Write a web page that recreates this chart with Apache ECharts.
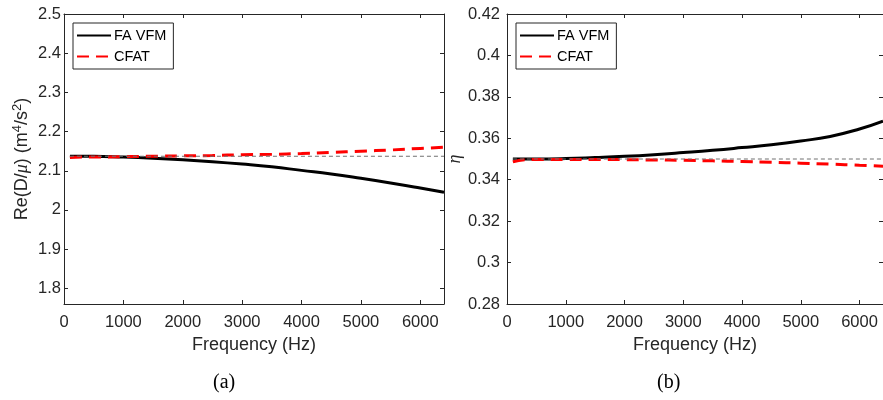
<!DOCTYPE html>
<html>
<head>
<meta charset="utf-8">
<script src="https://cdn.jsdelivr.net/npm/echarts@6/dist/echarts.min.js"></script>
<style>
  html, body { margin: 0; padding: 0; background: #fff; }
  #chart { width: 883px; height: 400px; }
</style>
</head>
<body>
<div id="chart"></div>
<script>
// frequency samples (Hz)
const freq = [100, 300, 500, 1000, 1500, 2000, 2500, 3000, 3500, 4000, 4500, 5000, 5500, 6000, 6400]

// (a) Re(D/mu)
const dVfm = [2.137, 2.137, 2.137, 2.135, 2.132, 2.128, 2.123, 2.117, 2.110, 2.101, 2.092, 2.081, 2.069, 2.056, 2.045]
const dCfat = [2.134, 2.135, 2.135, 2.136, 2.137, 2.138, 2.139, 2.141, 2.142, 2.144, 2.147, 2.150, 2.153, 2.157, 2.160]
const dRef = 2.137

// (b) eta
const etaVfm = [0.3500, 0.3500, 0.3500, 0.3502, 0.3507, 0.3513, 0.3521, 0.3531, 0.3542, 0.3555, 0.3569, 0.3587, 0.3609, 0.3645, 0.3683]
const etaCfat = [0.3486, 0.3496, 0.3498, 0.3498, 0.3498, 0.3497, 0.3495, 0.3494, 0.3491, 0.3488, 0.3484, 0.3480, 0.3475, 0.3470, 0.3465]
const etaRef = 0.350

const seriesNames = ['FA VFM', 'CFAT']
const captions = ['(a)', '(b)']

const axisColor = '#262626'
const font = 'Liberation Sans'

const pair = (ys) => freq.map((f, i) => [f, ys[i]])
const refLine = (v) => [[freq[0], v], [freq[freq.length - 1], v]]

const xName = {
  name: 'Frequency (Hz)', nameLocation: 'middle', nameGap: 32,
  nameTextStyle: { color: axisColor, fontSize: 18, fontFamily: font }
}

const xBase = (grid, pos) => ({
  type: 'value',
  gridIndex: grid,
  position: pos,
  min: 0,
  max: 6400,
  interval: 1000,
  axisLine: { show: true, onZero: false, lineStyle: { color: axisColor, width: 1 } },
  axisTick: { show: true, inside: true, length: 4, lineStyle: { color: axisColor } },
  axisLabel: pos === 'bottom'
    ? { show: true, margin: 10, color: axisColor, fontSize: 16.5, fontFamily: font, showMaxLabel: false, formatter: v => String(v) }
    : { show: false },
  splitLine: { show: false }
})

const yTick = { show: true, inside: true, length: 4, lineStyle: { color: axisColor } }
const yLine = { show: true, onZero: false, lineStyle: { color: axisColor, width: 1 } }

const chart = echarts.init(document.getElementById('chart'))

chart.setOption({
  animation: false,
  backgroundColor: '#fff',
  grid: [
    { left: 64, top: 14, width: 380, height: 290 },
    { left: 507, top: 14, width: 381, height: 290 }
  ],
  xAxis: [
    Object.assign(xBase(0, 'bottom'), xName),
    xBase(0, 'top'),
    Object.assign(xBase(1, 'bottom'), xName),
    xBase(1, 'top')
  ],
  yAxis: [
    {
      type: 'value', gridIndex: 0, position: 'left',
      min: 1.76, max: 2.5, splitNumber: 7,
      axisLine: yLine, axisTick: yTick, splitLine: { show: false },
      axisLabel: { color: axisColor, fontSize: 16.5, fontFamily: font, margin: 3, showMinLabel: false },
      name: 'Re(D/{i|μ}) (m{s|4}/s{s|2})', nameLocation: 'middle', nameGap: 31, nameRotate: 90,
      nameTextStyle: {
        color: axisColor, fontSize: 18, fontFamily: font,
        rich: {
          i: { fontSize: 18, fontFamily: 'Liberation Serif', fontStyle: 'italic', color: axisColor },
          s: { fontSize: 13, fontFamily: font, color: axisColor, verticalAlign: 'top', padding: [0, 0, 9, 0] }
        }
      }
    },
    {
      type: 'value', gridIndex: 0, position: 'right',
      min: 1.76, max: 2.5, splitNumber: 7,
      axisLine: yLine, axisTick: yTick, splitLine: { show: false }, axisLabel: { show: false }
    },
    {
      type: 'value', gridIndex: 1, position: 'left',
      min: 0.28, max: 0.42, interval: 0.02,
      axisLine: yLine, axisTick: yTick, splitLine: { show: false },
      axisLabel: { color: axisColor, fontSize: 16.5, fontFamily: font, margin: 7 },
      name: 'η', nameLocation: 'middle', nameGap: 42, nameRotate: 90,
      nameTextStyle: { color: axisColor, fontSize: 18, fontFamily: 'Liberation Serif', fontStyle: 'italic' }
    },
    {
      type: 'value', gridIndex: 1, position: 'right',
      min: 0.28, max: 0.42, interval: 0.02,
      axisLine: yLine, axisTick: yTick, splitLine: { show: false }, axisLabel: { show: false }
    }
  ],
  legend: [0, 1].map(g => ({
    data: seriesNames,
    left: g === 0 ? 73 : 516,
    top: 23,
    orient: 'vertical',
    backgroundColor: '#fff',
    borderColor: axisColor,
    borderWidth: 1,
    borderRadius: 0,
    padding: [5, 7, 5, 3],
    itemGap: 6,
    itemWidth: 34,
    itemHeight: 14,
    itemStyle: { opacity: 0 },
    textStyle: { color: '#000', fontSize: 14.5, fontFamily: font, padding: [0, 0, 0, -2] },
    selectedMode: false
  })),
  series: [
    { name: seriesNames[0], type: 'line', xAxisIndex: 0, yAxisIndex: 0, data: pair(dVfm), smooth: true, symbol: 'none', lineStyle: { color: '#000', width: 3 }, itemStyle: { color: '#000' } },
    { name: seriesNames[1], type: 'line', xAxisIndex: 0, yAxisIndex: 0, data: pair(dCfat), smooth: true, symbol: 'none', lineStyle: { color: '#ff0000', width: 3, type: [12, 7] }, itemStyle: { color: '#ff0000' } },
    { name: 'ref', type: 'line', xAxisIndex: 0, yAxisIndex: 0, data: refLine(dRef), symbol: 'none', silent: true, lineStyle: { color: '#707070', width: 1, type: [4, 3] } },
    { name: seriesNames[0], type: 'line', xAxisIndex: 2, yAxisIndex: 2, data: pair(etaVfm), smooth: true, symbol: 'none', lineStyle: { color: '#000', width: 3 }, itemStyle: { color: '#000' } },
    { name: seriesNames[1], type: 'line', xAxisIndex: 2, yAxisIndex: 2, data: pair(etaCfat), smooth: true, symbol: 'none', lineStyle: { color: '#ff0000', width: 3, type: [12, 7] }, itemStyle: { color: '#ff0000' } },
    { name: 'ref', type: 'line', xAxisIndex: 2, yAxisIndex: 2, data: refLine(etaRef), symbol: 'none', silent: true, lineStyle: { color: '#707070', width: 1, type: [4, 3] } }
  ],
  graphic: [
    { type: 'text', left: 213, top: 373, style: { text: captions[0], fill: '#000', fontSize: 20, fontFamily: 'Liberation Serif' } },
    { type: 'text', left: 657, top: 373, style: { text: captions[1], fill: '#000', fontSize: 20, fontFamily: 'Liberation Serif' } }
  ]
})
</script>
</body>
</html>
